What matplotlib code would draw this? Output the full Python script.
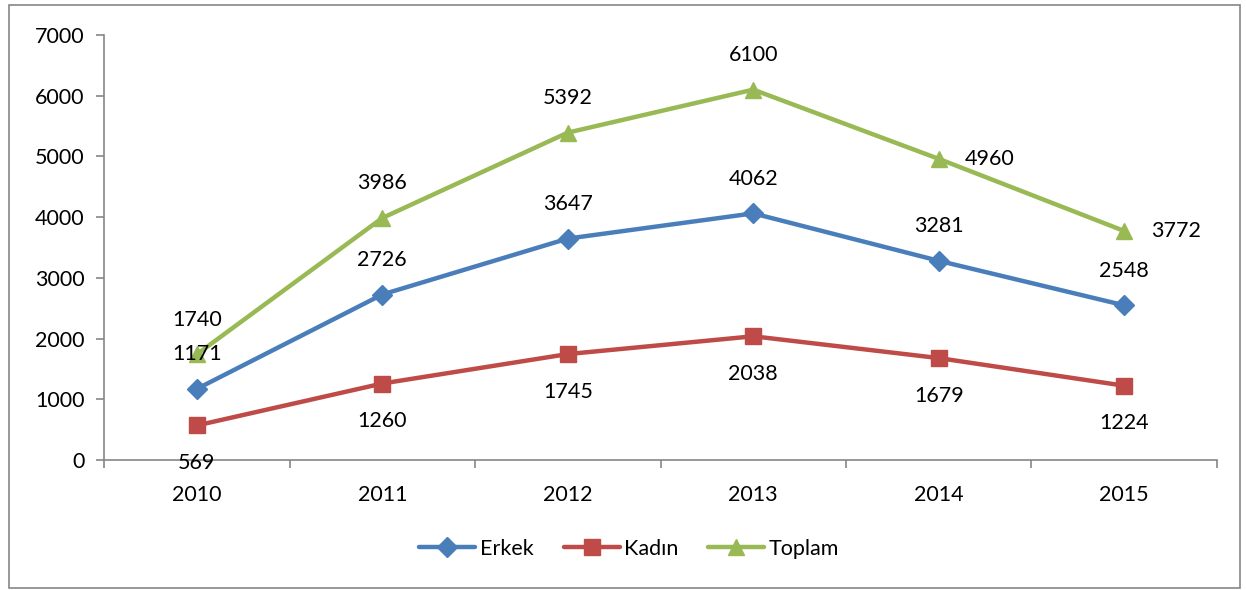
import matplotlib
matplotlib.use("Agg")
import matplotlib.pyplot as plt
from matplotlib.patches import Rectangle

plt.rcParams['font.family'] = ['Lato', 'DejaVu Sans']

years = ["2010", "2011", "2012", "2013", "2014", "2015"]
erkek = [1171, 2726, 3647, 4062, 3281, 2548]
kadin = [569, 1260, 1745, 2038, 1679, 1224]
toplam = [1740, 3986, 5392, 6100, 4960, 3772]

# where each data label sits relative to its point
erkek_pos = ["above"] * 6
kadin_pos = ["below"] * 6
toplam_pos = ["above", "above", "above", "above", "right", "right"]

blue = "#4A7EBB"
red = "#BE4B48"
green = "#98B954"
grey = "#868686"
fs = 15.5

fig = plt.figure(figsize=(12.46, 5.90), dpi=100)
ax = fig.add_axes([0.0835, 0.2203, 0.8932, 0.7204])

x = list(range(len(years)))
series = [
    ("Erkek", erkek, blue, "D", 10, erkek_pos),
    ("Kadın", kadin, red, "s", 11, kadin_pos),
    ("Toplam", toplam, green, "^", 12, toplam_pos),
]

for name, vals, col, mk, ms, pos in series:
    ax.plot(x, vals, color=col, lw=3.2, marker=mk, markersize=ms, label=name,
            solid_capstyle="round")
    for xi, v, p in zip(x, vals, pos):
        if p == "above":
            off, ha = (0, 25), "center"
        elif p == "below":
            off, ha = (0, -27), "center"
        else:
            off, ha = (19, 0), "left"
        ax.annotate(str(v), (xi, v), xytext=off, textcoords="offset points",
                    ha=ha, va="center", fontsize=fs, color="black")

ax.set_xlim(-0.5, len(years) - 0.5)
ax.set_ylim(0, 7000)
ax.set_yticks(range(0, 7001, 1000))
ax.set_xticks(x)
ax.set_xticklabels(years)
ax.set_xticks([i - 0.5 for i in range(len(years) + 1)], minor=True)

for s in ["top", "right"]:
    ax.spines[s].set_visible(False)
for s in ["left", "bottom"]:
    ax.spines[s].set_color(grey)
    ax.spines[s].set_linewidth(1.2)

ax.tick_params(axis="y", length=6, color=grey, width=1.2, labelsize=fs, pad=8)
ax.tick_params(axis="x", which="major", length=0, labelsize=fs, pad=18)
ax.tick_params(axis="x", which="minor", length=6, color=grey, width=1.2)

fig.legend(loc="center", bbox_to_anchor=(0.505, 0.07), ncol=3, frameon=False,
           fontsize=fs, handlelength=2.6, columnspacing=1.4, handletextpad=0.2)

fig.patches.append(Rectangle((0.007, 0.004), 0.988, 0.988, transform=fig.transFigure,
                             fill=False, edgecolor=grey, lw=1.2))

fig.savefig("out.png", dpi=100)
